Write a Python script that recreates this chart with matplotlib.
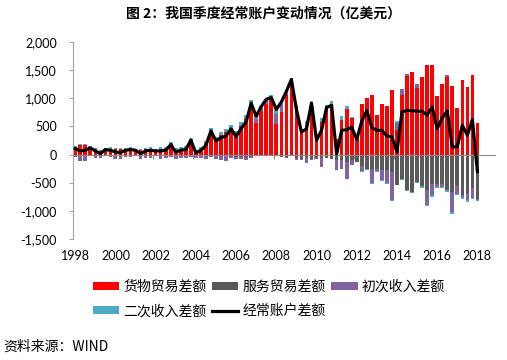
import matplotlib.pyplot as plt
import numpy as np

plt.rcParams['font.family'] = ['Noto Sans CJK SC', 'DejaVu Sans']

# 季度数据 1998Q1 - 2018Q1，单位：亿美元
year_labels = [str(y) for y in range(1998, 2019, 2)]

goods = [131, 165, 167, 133, 105, 58, 99, 102, 97, 100, 92, 114, 82, 78, 100, 107, 65, 105, 102, 182,
         82, 102, 114, 259, 45, 87, 200, 430, 262, 345, 392, 465, 357, 510, 633, 900, 565, 772, 900, 960,
         550, 760, 1060, 1316, 850, 430, 520, 920, 330, 580, 845, 900, 270, 620, 815, 655, 260, 890, 1009, 1050,
         700, 903, 855, 1150, 440, 1050, 1400, 1460, 1175, 1375, 1593, 1593, 1038, 1245, 1375, 1210, 820, 1315, 1200, 1410,
         560]
services = [-10, -15, -10, -10, -15, -15, -10, -10, -15, -15, -10, -10, -10, -15, -15, -10, -10, -15, -15, -10,
            -20, -20, -20, -25, -25, -25, -30, -30, -30, -30, -30, -35, -35, -35, -35, -40, -30, -30, -30, -30,
            -20, -41, -53, -30, -60, -70, -60, -71, -60, -53, -59, -71, -89, -89, -130, -100, -130, -200, -250, -250,
            -260, -277, -280, -300, -543, -425, -620, -660, -484, -560, -620, -513, -525, -525, -631, -660, -560, -720, -690, -600,
            -780]
primary = [-30, -100, -100, -20, -40, -45, -20, -40, -55, -70, -30, -40, -20, -70, -45, -50, -20, -55, -40, -30,
           -50, -40, -40, -20, -30, -30, -50, -20, -40, -70, -80, -30, -40, -50, -60, -20, 60, 30, 60, 30,
           177, 130, 40, 0, -40, -30, -80, -20, -25, -165, 0, 0, -177, -160, -300, -90, 70, -95, 0, -250,
           -30, -165, -230, -500, 118, 118, 30, 0, 77, 0, -265, -206, -47, -47, 35, -354, -130, -30, -118, -160,
           -20]
secondary = [15, 15, 20, 15, 15, 20, 20, 25, 20, 20, 25, 25, 25, 25, 25, 30, 30, 30, 30, 35,
             35, 35, 35, 40, 40, 45, 45, 50, 50, 55, 60, 60, 60, 65, 70, 75, 60, 60, 30, 60,
             59, 30, 50, 41, 30, 10, 70, 10, 10, 75, 41, 47, 10, 60, 50, 10, 0, -10, -18, -20,
             -20, -20, -18, -30, 30, -20, -24, -24, -18, -30, -24, -30, -20, -20, -30, -41, -30, -30, -25, -25,
             -20]
current = [106, 65, 77, 118, 65, 18, 89, 77, 47, 35, 77, 89, 77, 18, 65, 77, 65, 65, 77, 177,
           47, 77, 89, 254, 30, 77, 165, 420, 240, 300, 330, 455, 320, 460, 580, 910, 680, 850, 980, 1010,
           800, 932, 1120, 1330, 800, 400, 455, 915, 255, 430, 835, 873, 10, 430, 440, 485, 270, 590, 780, 480,
           430, 430, 330, 313, 47, 755, 785, 775, 770, 767, 700, 845, 460, 650, 770, 136, 140, 520, 342, 625,
           -300]

names = ['货物贸易差额', '服务贸易差额', '初次收入差额', '二次收入差额']
colors = ['#FF0000', '#595959', '#8064A2', '#4BACC6']

fig = plt.figure(figsize=(5.07, 3.6), dpi=100)
ax = fig.add_axes([72.7 / 507, 1 - 239.3 / 360, (495 - 72.7) / 507, (239.3 - 41.7) / 360])

x = np.arange(len(goods))
pos_base = np.zeros(len(x))
neg_base = np.zeros(len(x))
bars = []
for vals, c, name in zip([goods, services, primary, secondary], colors, names):
    v = np.array(vals, dtype=float)
    base = np.where(v >= 0, pos_base, neg_base)
    bars.append(ax.bar(x, v, 0.72, bottom=base, color=c, label=name, zorder=2))
    pos_base += np.clip(v, 0, None)
    neg_base += np.clip(v, None, 0)

line, = ax.plot(x, current, color='black', lw=2.3, label='经常账户差额', zorder=4)

ax.set_xlim(-0.5, 83.5)
ax.set_ylim(-1500, 2000)
ax.set_yticks(range(-1500, 2001, 500))
ax.set_yticklabels([f'{v:,}' for v in range(-1500, 2001, 500)])

for s in ['top', 'right']:
    ax.spines[s].set_visible(False)
ax.spines['left'].set_color('#A6A6A6')
ax.spines['bottom'].set_position(('data', 0))
ax.spines['bottom'].set_color('#8C8C8C')
ax.spines['bottom'].set_zorder(3)
ax.set_xticks(np.arange(7.5, 84, 8))
ax.set_xticklabels([])
ax.tick_params(axis='x', length=3, color='#8C8C8C', direction='out')
ax.tick_params(axis='y', length=3, color='#A6A6A6', pad=8.5, labelsize=9, labelfontfamily='Lato')

sec = ax.secondary_xaxis('bottom')
sec.set_xticks(np.arange(0, 81, 8))
sec.set_xticklabels(year_labels)
sec.spines['bottom'].set_visible(False)
sec.tick_params(length=0, pad=8, labelsize=9, labelfontfamily='Lato')

fig.text(263 / 507, 1 - 13.3 / 360, '图 2：我国季度经常账户变动情况（亿美元）',
         ha='center', va='center', fontsize=10, fontweight='bold')

handles = [bars[0], bars[3], bars[1], line, bars[2]]
labels = [names[0], names[3], names[1], '经常账户差额', names[2]]
fig.legend(handles, labels, ncol=3, loc='center', bbox_to_anchor=(269 / 507, 1 - 299 / 360),
           frameon=False, fontsize=10, handlelength=1.9, handleheight=0.5, handletextpad=0.3,
           columnspacing=0.4, labelspacing=0.75, borderpad=0)

fig.text(3 / 507, 1 - 346.7 / 360, '资料来源：WIND', ha='left', va='center', fontsize=10)

fig.savefig('out.png', dpi=100)
